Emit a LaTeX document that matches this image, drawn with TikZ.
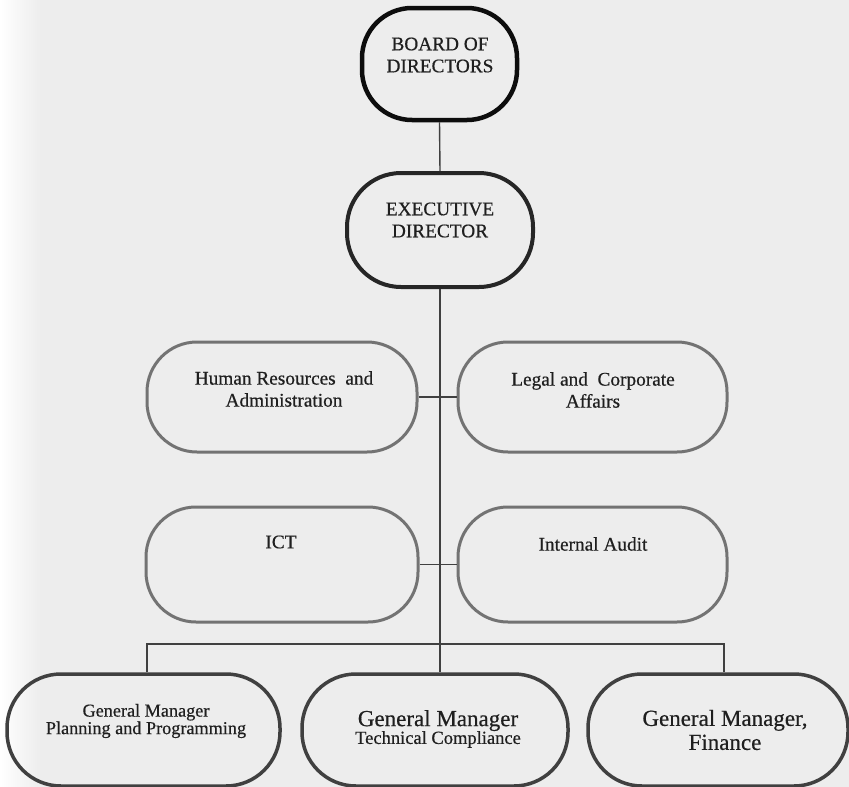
\documentclass[tikz,border=0pt]{standalone}
\usepackage{fontspec}
\setmainfont[FakeBold=0.5]{Liberation Serif}
\begin{document}
\begin{tikzpicture}[x=1pt,y=-1pt,
  bgfill/.style={fill=black!7},
  topbox/.style={draw=black!95, line width=4.5pt, rounded corners=50pt, minimum width=155pt, minimum height=112pt, inner sep=0pt},
  execbox/.style={draw=black!85, line width=4pt, rounded corners=54pt, minimum width=186pt, minimum height=114pt, inner sep=0pt},
  midbox/.style={draw=black!55, line width=3pt, rounded corners=50pt, minimum height=110pt, inner sep=0pt},
  lowbox/.style={draw=black!75, line width=3.5pt, rounded corners=54pt, minimum height=112pt, inner sep=0pt},
  conn/.style={draw=black!75, line width=1.4pt},
  txt/.style={text=black!88, align=center, inner sep=0pt, font=\fontsize{19.3}{22}\selectfont},
  smalltxt/.style={text=black!88, align=center, inner sep=0pt, font=\fontsize{18.2}{17.5}\selectfont}
]
\useasboundingbox (0,0) rectangle (849,787);
\fill[bgfill] (0,0) rectangle (849,787);
\shade[left color=white, right color=black!7] (0,0) rectangle (40,787);

% shapes
\node[topbox] (board) at (439.5,64) {};
\node[execbox] (exec) at (440,230) {};
\node[midbox, minimum width=270pt] (hr) at (282,397) {};
\node[midbox, minimum width=269pt] (legal) at (592.5,397) {};
\node[midbox, minimum width=272pt, minimum height=115pt] (ict) at (282,564.5) {};
\node[midbox, minimum width=269pt, minimum height=115pt] (audit) at (592.5,564.5) {};
\node[lowbox, minimum width=273pt] (gm1) at (143.5,730) {};
\node[lowbox, minimum width=266pt] (gm2) at (435,730) {};
\node[lowbox, minimum width=260pt] (gm3) at (718,730) {};

% texts
\node[txt] (tboard) at (440,55) {BOARD OF\\DIRECTORS};
\node[txt] (texec) at (440,220) {EXECUTIVE\\DIRECTOR};
\node[txt] (thr) at (284,389) {Human Resources\ \ and\\Administration};
\node[txt] (tlegal) at (593,390) {Legal and\ \ Corporate\\Affairs};
\node[txt] (tict) at (281,542) {ICT};
\node[txt] (taudit) at (593,544) {Internal Audit};
\node[smalltxt] (tgm1) at (146,721) {General Manager\\Planning and Programming};
\node[text=black!88, align=center, inner sep=0pt] (tgm2) at (438,729) {{\fontsize{23}{23}\selectfont General Manager}\\[-1pt]{\fontsize{18.5}{19}\selectfont Technical Compliance}};
\node[text=black!88, align=center, inner sep=0pt, font=\fontsize{23}{24}\selectfont] (tgm3) at (725,730) {General Manager,\\Finance};

% connectors
\coordinate (barL) at (147,644);
\coordinate (barR) at (724,644);
\draw[conn] (board.south) -- (exec.north);
\draw[conn] (exec.south) -- (exec.south |- gm2.north);
\draw[conn] (hr.east) -- (legal.west);
\draw[conn] (ict.east) -- (audit.west);
\draw[conn] (barL |- gm1.north) -- (barL) -- (barR) -- (barR |- gm3.north);
\end{tikzpicture}
\end{document}
